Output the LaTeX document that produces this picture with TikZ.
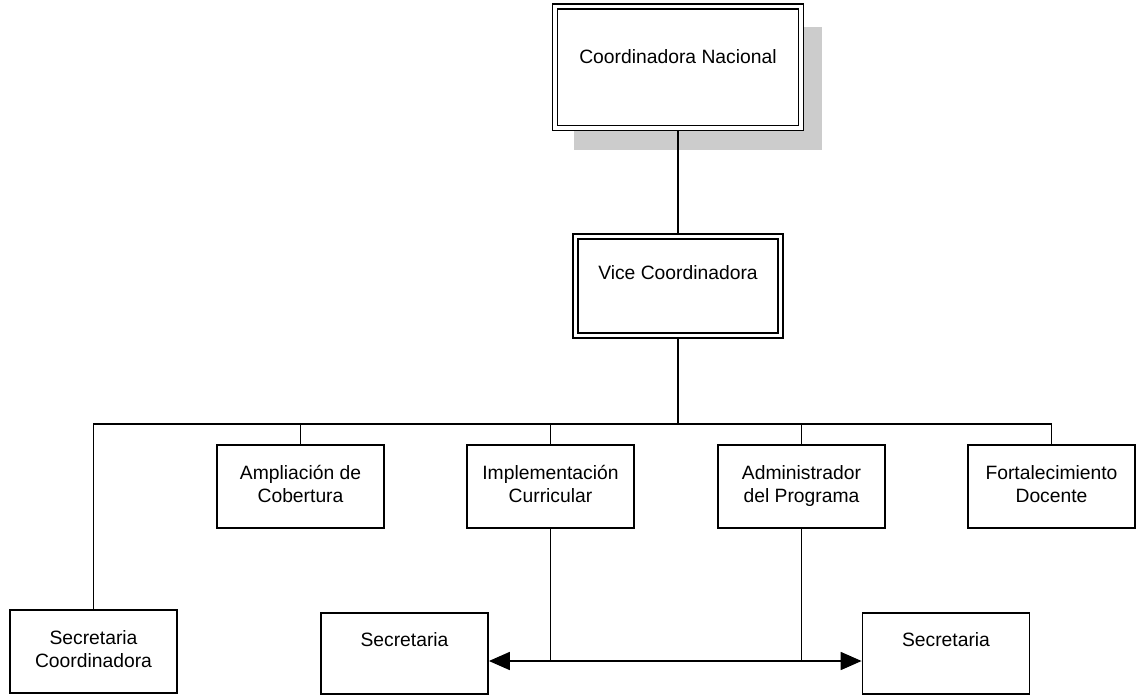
\documentclass[tikz,border=0pt]{standalone}
\usepackage{fontspec}
\setmainfont{Liberation Sans}
\usetikzlibrary{arrows.meta,backgrounds}
\begin{document}
\begin{tikzpicture}[x=1pt,y=-1pt,
  every node/.style={font=\fontsize{19.3pt}{22.2pt}\selectfont},
  unitbox/.style={draw, line width=1.8pt, fill=white, minimum width=167pt,
    minimum height=83pt, inner sep=0pt, align=center},
  headbox/.style={draw, double, double distance=3.3pt, line width=1.6pt,
    fill=white, inner sep=0pt, align=center},
  link/.style={line width=1.8pt},
  tip/.style={line width=1.8pt, {Triangle[length=21pt,width=18pt]}-{Triangle[length=21pt,width=18pt]}},
  shadowfill/.style={fill=black!20}]
\useasboundingbox (0,0) rectangle (1136,696);

% top of the chart
\node[headbox, minimum width=246pt, minimum height=121.5pt] (cn) at (678,67.25)
  {\raisebox{-3pt}{Coordinadora Nacional}\strut\\\strut};
\node[headbox, minimum width=205pt, minimum height=99pt] (vc) at (678,286)
  {Vice Coordinadora\strut\\\strut};

% program areas
\node[unitbox] (ac) at (300.5,486.5) {Ampliación de\strut\\Cobertura\strut};
\node[unitbox] (ic) at (550.5,486.5) {Implementación\strut\\Curricular\strut};
\node[unitbox] (ad) at (801.5,486.5) {Administrador\strut\\del Programa\strut};
\node[unitbox] (fd) at (1051.5,486.5) {Fortalecimiento\strut\\Docente\strut};

% secretaries
\node[unitbox] (sc) at (93.5,651.5) {Secretaria\strut\\Coordinadora\strut};
\node[unitbox, minimum height=81pt] (sl) at (404.5,653.5) {Secretaria\strut\\\strut};
\node[unitbox, minimum height=81pt] (sr) at (946,653.5) {Secretaria\strut\\\strut};

\coordinate (bus) at (678,424);
\coordinate (lk) at (678,661);

\begin{scope}[on background layer]
  \fill[shadowfill] ([shift={(20,21)}]cn.north west) rectangle ([shift={(20,21)}]cn.south east);
  \draw[link] (cn.south) -- (vc.north);
  \draw[link] (vc.south) -- (vc.south |- bus);
  \draw[link] (sc.north) -- (sc.north |- bus) -- (fd.north |- bus) -- (fd.north);
  \draw[link] (ac.north) -- (ac.north |- bus);
  \draw[link] (ic.north) -- (ic.north |- bus);
  \draw[link] (ad.north) -- (ad.north |- bus);
  \draw[link] (ic.south) -- (ic.south |- lk);
  \draw[link] (ad.south) -- (ad.south |- lk);
\end{scope}
\draw[tip] (sl.east |- lk) -- (sr.west |- lk);
\end{tikzpicture}
\end{document}
